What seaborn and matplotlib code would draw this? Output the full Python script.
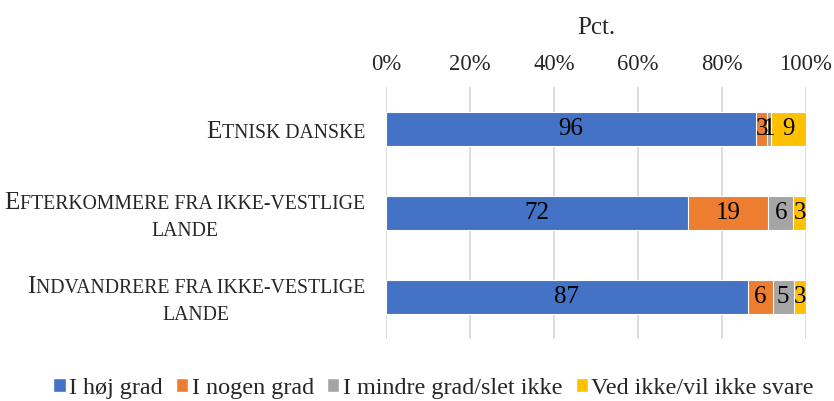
import numpy as np
import pandas as pd
import seaborn as sns
import matplotlib.pyplot as plt
from matplotlib.ticker import PercentFormatter
from matplotlib.patches import Patch
from matplotlib.transforms import IdentityTransform

# data (counts per group, shown as share of the group total)
groups = ["Etnisk danske",
          "Efterkommere fra ikke-vestlige\nlande",
          "Indvandrere fra ikke-vestlige\nlande"]
answers = ["I høj grad", "I nogen grad", "I mindre grad/slet ikke", "Ved ikke/vil ikke svare"]
hoej = [96, 72, 87]
nogen = [3, 19, 6]
mindre = [1, 6, 5]
ved = [9, 3, 3]
colors = ["#4472C4", "#ED7D31", "#A5A5A5", "#FFC000"]

sns.set_style("white")
plt.rcParams["font.family"] = ["Liberation Serif", "DejaVu Serif"]

counts = np.array([hoej, nogen, mindre, ved], dtype=float)
pct = counts / counts.sum(axis=0) * 100
cum = pct.cumsum(axis=0)

fig = plt.figure(figsize=(8.34, 4.01), dpi=100)
ax = fig.add_axes([0.4628, 0.1546, 0.5036, 0.6284])

# stacked bars: draw cumulative totals, widest first
for i in range(3, -1, -1):
    df = pd.DataFrame({"gruppe": groups, "pct": cum[i]})
    sns.barplot(data=df, x="pct", y="gruppe", orient="h", color=colors[i],
                saturation=1, width=0.4, edgecolor="white", linewidth=0.8, ax=ax)

# value labels in the middle of each segment
for i in range(4):
    for j in range(3):
        ax.text(cum[i, j] - pct[i, j] / 2, j, f"{counts[i, j]:.0f}",
                ha="center", va="center", fontsize=18, color="black")

ax.set_xlim(0, 100)
ax.set_xticks(range(0, 101, 20))
ax.xaxis.set_major_formatter(PercentFormatter(decimals=0))
ax.xaxis.tick_top()
ax.xaxis.set_label_position("top")
ax.set_xlabel("Pct.", fontsize=18, labelpad=14)
ax.set_ylabel("")
ax.tick_params(axis="x", length=0, pad=9, labelsize=16.3)
ax.tick_params(axis="y", length=0)
ax.set_yticks(range(3))
ax.set_yticklabels([])
ax.grid(axis="x", color="#D9D9D9", lw=1.3)
ax.grid(axis="y", visible=False)
ax.set_axisbelow(True)
for s in ax.spines.values():
    s.set_visible(False)

handles = [Patch(facecolor=c, label=a) for c, a in zip(colors, answers)]
fig.legend(handles=handles, loc="center", bbox_to_anchor=(0.52, 0.032), ncol=4,
           frameon=False, fontsize=17.4, handlelength=0.5, handleheight=0.5,
           handletextpad=0.15, columnspacing=0.55, borderaxespad=0)

# category labels in small caps (big initials, small upper-case rest)
fig.canvas.draw()
renderer = fig.canvas.get_renderer()


def make_line(line):
    pieces = []
    for ch in line:
        big = ch.isupper()
        if pieces and pieces[-1][1] == big:
            pieces[-1][0] += ch
        else:
            pieces.append([ch, big])
    arts, widths = [], []
    for txt, big in pieces:
        t = fig.text(0, 0, txt.upper(), fontsize=18 if big else 14.2,
                     transform=IdentityTransform(), ha="left", va="baseline")
        arts.append(t)
        widths.append(t.get_window_extent(renderer).width)
    return arts, widths


right = ax.get_window_extent().x0 - 21
for j, label in enumerate(groups):
    c = ax.transData.transform((0, j))[1]
    lines = label.split("\n")
    built = [make_line(l) for l in lines]
    w0 = sum(built[0][1])
    center = right - w0 / 2
    for k, (arts, widths) in enumerate(built):
        base = c - 9 + (len(lines) - 1) * 13.5 - 27 * k
        x = center - sum(widths) / 2
        for t, w in zip(arts, widths):
            t.set_position((x, base))
            x += w

fig.savefig("out.png", dpi=100)
